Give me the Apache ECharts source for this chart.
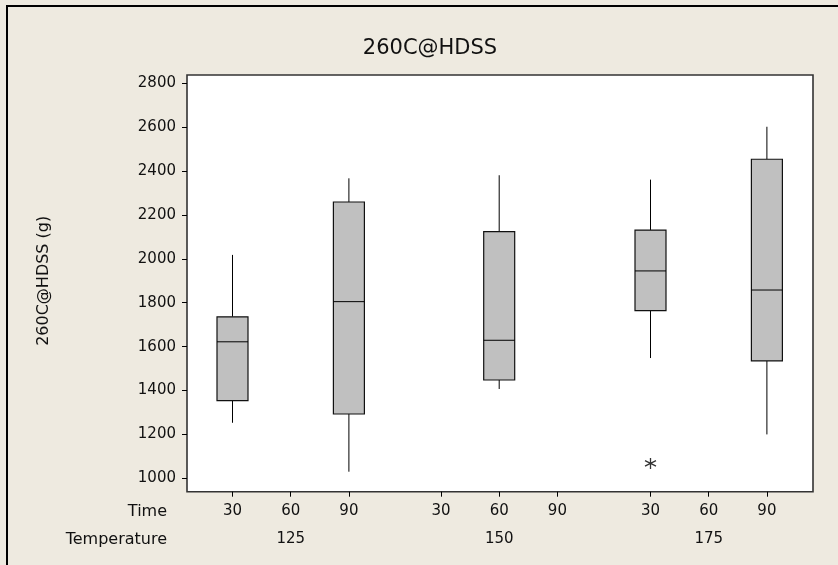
<!DOCTYPE html>
<html>
<head>
<meta charset="utf-8">
<script src="https://cdn.jsdelivr.net/npm/echarts@6/dist/echarts.min.js"></script>
<style>
html, body { margin: 0; padding: 0; background: #EEEAE0; }
#main { width: 838px; height: 565px; }
</style>
</head>
<body>
<div id="main"></div>
<script>
// data
var times = ['30', '60', '90'];
var temps = ['125', '150', '175'];
var boxTemp = ['125', '125', '150', '175', '175'];
var boxTime = ['30', '90', '60', '30', '90'];
var boxMin = [1253, 1030, 1407, 1548, 1200];
var boxQ1 = [1354, 1293, 1448, 1764, 1535];
var boxMedian = [1622, 1805, 1629, 1945, 1858];
var boxQ3 = [1736, 2259, 2124, 2131, 2454];
var boxMax = [2018, 2367, 2381, 2361, 2602];
var outTemp = ['175'];
var outTime = ['30'];
var outValue = [1068];

var myChart = echarts.init(document.getElementById('main'));

var font = 'DejaVu Sans';
var groupLeft = [203.4, 411.9, 621.4];
var groupWidth = 174.6;
var half = 15.5;

function renderBox(params, api) {
    var x = api.value(0);
    var pMin = api.coord([x, api.value(1)]);
    var pQ1 = api.coord([x, api.value(2)]);
    var pMed = api.coord([x, api.value(3)]);
    var pQ3 = api.coord([x, api.value(4)]);
    var pMax = api.coord([x, api.value(5)]);
    var line = { stroke: '#000', lineWidth: 1 };
    return {
        type: 'group',
        children: [
            { type: 'line', shape: { x1: pMin[0], y1: pMin[1], x2: pQ1[0], y2: pQ1[1] }, style: line },
            { type: 'line', shape: { x1: pQ3[0], y1: pQ3[1], x2: pMax[0], y2: pMax[1] }, style: line },
            { type: 'rect', shape: { x: pQ3[0] - half, y: pQ3[1], width: half * 2, height: pQ1[1] - pQ3[1] },
              style: { fill: '#C0C0C0', stroke: '#111', lineWidth: 1.2 } },
            { type: 'line', shape: { x1: pMed[0] - half, y1: pMed[1], x2: pMed[0] + half, y2: pMed[1] }, style: line }
        ]
    };
}

var grids = [{ left: 187, right: 25, top: 75, bottom: 73.3, show: true,
    backgroundColor: '#fff', borderColor: '#333', borderWidth: 1.6 }];
var xAxes = [{ gridIndex: 0, type: 'value', show: false }];
var yAxes = [{ gridIndex: 0, type: 'value', show: false }];
var series = [];

temps.forEach(function (t, i) {
    grids.push({ left: groupLeft[i], width: groupWidth, top: 83.3, height: 395 });
    xAxes.push({
        gridIndex: i + 1, type: 'category', data: times, position: 'bottom', offset: 13.4,
        axisLine: { show: false },
        axisTick: { show: true, alignWithLabel: true, length: 5, lineStyle: { color: '#000' } },
        axisLabel: { margin: 12, fontSize: 15, color: '#111', fontFamily: font }
    });
    xAxes.push({
        gridIndex: i + 1, type: 'category', data: [t], position: 'bottom', offset: 13.4,
        axisLine: { show: false }, axisTick: { show: false },
        axisLabel: { margin: 40, fontSize: 15, color: '#111', fontFamily: font }
    });
    yAxes.push({
        gridIndex: i + 1, type: 'value', min: 1000, max: 2800, interval: 200,
        show: i === 0, offset: 16.4,
        axisLine: { show: false },
        axisTick: { show: true, length: 5, lineStyle: { color: '#000' } },
        axisLabel: { margin: 11, fontSize: 15, color: '#111', fontFamily: font,
            formatter: function (v) { return String(v); } },
        splitLine: { show: false },
        name: i === 0 ? '260C@HDSS (g)' : '',
        nameLocation: 'middle', nameGap: 135,
        nameTextStyle: { fontSize: 16, color: '#111', fontFamily: font }
    });
    var rows = [];
    boxTemp.forEach(function (bt, k) {
        if (bt === t) rows.push([boxTime[k], boxMin[k], boxQ1[k], boxMedian[k], boxQ3[k], boxMax[k]]);
    });
    series.push({
        type: 'custom', xAxisIndex: 1 + 2 * i, yAxisIndex: i + 1,
        renderItem: renderBox, encode: { x: 0, y: [1, 2, 3, 4, 5] },
        data: rows, silent: true
    });
    var pts = [];
    outTemp.forEach(function (ot, k) {
        if (ot === t) pts.push([outTime[k], outValue[k]]);
    });
    if (pts.length) {
        series.push({
            type: 'scatter', xAxisIndex: 1 + 2 * i, yAxisIndex: i + 1,
            symbol: 'path://M5,0 L5,10 M0.7,2.5 L9.3,7.5 M0.7,7.5 L9.3,2.5',
            symbolSize: 11,
            itemStyle: { color: 'none', borderColor: '#000', borderWidth: 1.3 },
            data: pts, silent: true
        });
    }
});

var option = {
    animation: false,
    title: {
        text: '260C@HDSS', left: 425, top: 33, textAlign: 'center',
        textStyle: { fontSize: 21, fontWeight: 'normal', color: '#111', fontFamily: font }
    },
    grid: grids,
    xAxis: xAxes,
    yAxis: yAxes,
    series: series,
    graphic: [
        { type: 'rect', shape: { x: 7, y: 6, width: 900, height: 700 },
          style: { fill: 'none', stroke: '#000', lineWidth: 2 }, silent: true },
        { type: 'text', x: 167, y: 512, style: { text: 'Time', align: 'right', verticalAlign: 'middle',
          fontSize: 16, fill: '#111', fontFamily: font } },
        { type: 'text', x: 167, y: 540, style: { text: 'Temperature', align: 'right', verticalAlign: 'middle',
          fontSize: 16, fill: '#111', fontFamily: font } }
    ]
};
myChart.setOption(option);
</script>
</body>
</html>
